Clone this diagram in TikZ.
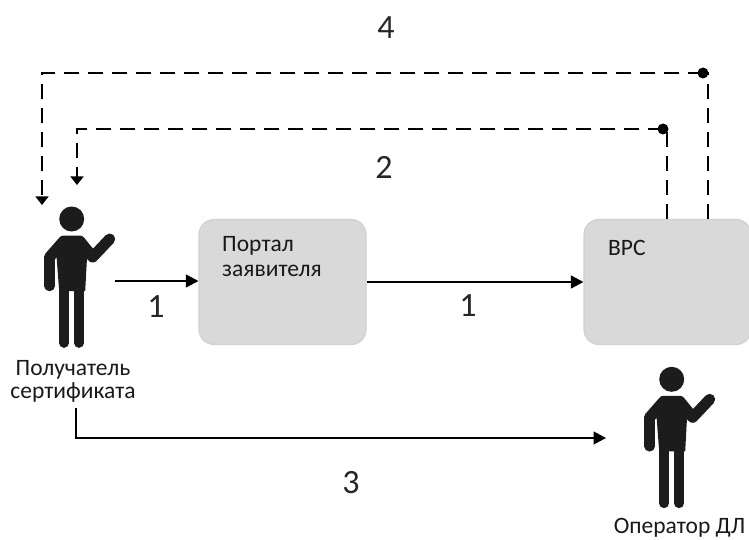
\documentclass[tikz,border=0pt]{standalone}
\usepackage{fontspec}
\setmainfont{Carlito}
\usetikzlibrary{arrows.meta}
\tikzset{
  x=1pt,y=-1pt,
  blockbox/.style={draw=black!18,line width=1.2pt,fill=black!15,rounded corners=15pt,minimum width=167pt,minimum height=125pt,inner sep=0pt},
  conn/.style={line width=1.2pt,-{Triangle[length=12.5pt,width=13pt]}},
  dashconn/.style={line width=1.3pt,dash pattern=on 15pt off 9pt,-{Triangle[length=8.5pt,width=13pt]}},
  num/.style={font=\fontsize{34}{34}\selectfont,inner sep=0pt,text=black!85},
  lbl/.style={font=\fontsize{23.5}{23}\selectfont,inner sep=0pt,align=center,text=black!90},
  boxlbl/.style={font=\fontsize{23.5}{24.5}\selectfont,inner sep=0pt,align=left,anchor=west,text=black!90},
  dot/.style={circle,fill=black,minimum size=11pt,inner sep=0pt},
  figfill/.style={draw=figc,line cap=round,line join=round},
  person/.pic={
    \fill[figc] (0,0) circle (12.5);
    \fill[figc] (-10,17) -- (10,17) -- (16,36) -- (15,44) -- (13.5,72) -- (-12.5,72) -- (-15,40) -- (-17,30) -- cycle;
    \draw[figfill,line width=11pt] (-22,38) -- (-8,22) -- (8,22) -- (21,38) -- (38,20);
    \draw[figfill,line width=10.5pt] (-22,38) -- (-22,67);
    \draw[figfill,line width=9.7pt] (-7.6,70) -- (-7.6,124);
    \draw[figfill,line width=9.7pt] (7.4,70) -- (7.4,124);
  }
}
\definecolor{figc}{HTML}{1C1C1C}
\begin{document}
\begin{tikzpicture}
\useasboundingbox (0,0) rectangle (749,540);
\node[blockbox] (portal) at (282.5,282) {};
\node[blockbox] (vrs) at (667.5,282) {};
\path (71.7,219) pic {person};
\path (671.7,379.3) pic {person};
\node[lbl] (recv) at (73,381) {Получатель\\сертификата};
\node[lbl] (oper) at (679.5,528) {Оператор ДЛ};
\node[boxlbl] (portaltxt) at (222,256.5) {Портал\\заявителя};
\node[boxlbl] (vrstxt) at (608,248) {ВРС};
\node[num] (n4) at (386,28) {4};
\node[num] (n2) at (384,167) {2};
\node[num] (n1a) at (156,307) {1};
\node[num] (n1b) at (468,306) {1};
\node[num] (n3) at (351,483) {3};
\coordinate (a1) at (115,281);
\coordinate (r1) at (76,408);
\coordinate (r2) at (606,438);
\coordinate (d2end) at (77,185);
\coordinate (d4end) at (42,205);
\node[dot] (dot2) at (663,129) {};
\node[dot] (dot4) at (703,73) {};
\draw[conn] (a1) -- (a1 -| portal.west);
\draw[conn] (portal.east) -- (vrs.west);
\draw[conn] (r1) |- (r2);
\draw[dashconn,-] ([xshift=-0.5pt]vrs.north) -- (667,129) -- (dot2.center);
\draw[dashconn] (dot2.center) -- (77,129) -- (d2end);
\draw[dashconn,-] (708,219) -- (708,73) -- (dot4.center);
\draw[dashconn] (dot4.center) -- (42,73) -- (d4end);
\end{tikzpicture}
\end{document}
